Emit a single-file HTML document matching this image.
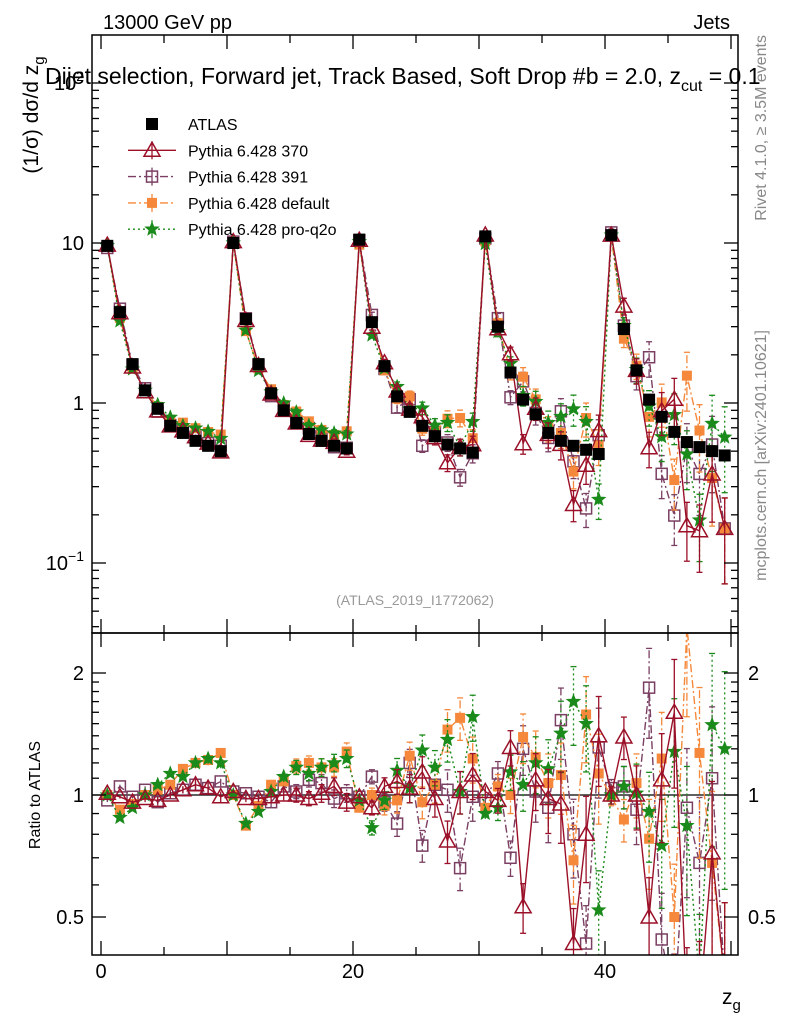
<!DOCTYPE html>
<html><head><meta charset="utf-8"><style>
html,body{margin:0;padding:0;background:#fff;width:786px;height:1024px;overflow:hidden;position:relative;}
svg{display:block;position:absolute;left:0;top:0;font-family:"Liberation Sans",sans-serif;}
</style></head><body>
<svg id="c" width="786" height="1024" viewBox="0 0 786 1024" overflow="hidden">
<defs>
<clipPath id="cm"><rect x="92" y="35" width="646" height="598"/></clipPath>
<clipPath id="cr"><rect x="92" y="633" width="646" height="322"/></clipPath>
</defs>
<g id="layer"></g>
<rect x="92" y="35" width="646" height="598" fill="none" stroke="#000" stroke-width="1.5"/>
<rect x="92" y="633" width="646" height="322" fill="none" stroke="#000" stroke-width="1.5"/>
<text x="103" y="29" font-size="20">13000 GeV pp</text>
<text x="730" y="29" font-size="20" text-anchor="end">Jets</text>
<text x="45" y="84" font-size="23">Dijet selection, Forward jet, Track Based, Soft Drop #b = 2.0, z<tspan font-size="16" dy="7">cut</tspan><tspan dy="-7"> = 0.1</tspan></text>
<text transform="translate(38,115) rotate(-90)" font-size="21" text-anchor="middle">(1/σ) dσ/d z<tspan font-size="15" dy="6">g</tspan></text>
<text transform="translate(40,795) rotate(-90)" font-size="16" text-anchor="middle">Ratio to ATLAS</text>
<text x="722" y="1004" font-size="21">z<tspan font-size="15" dy="6">g</tspan></text>
<text transform="translate(766,35) rotate(-90)" font-size="16" fill="#888" text-anchor="end">Rivet 4.1.0, ≥ 3.5M events</text>
<text transform="translate(766,330) rotate(-90)" font-size="16" fill="#888" text-anchor="end">mcplots.cern.ch [arXiv:2401.10621]</text>
<text x="415" y="605" font-size="14" fill="#999" text-anchor="middle">(ATLAS_2019_I1772062)</text>
</svg>
<script>
const atlas=[9.6,3.7,1.75,1.2,0.92,0.72,0.65,0.58,0.54,0.50,
10.0,3.35,1.75,1.15,0.9,0.75,0.64,0.58,0.54,0.52,
10.5,3.2,1.7,1.1,0.88,0.72,0.62,0.55,0.52,0.49,
11.0,3.0,1.55,1.05,0.85,0.65,0.58,0.54,0.51,0.48,
11.2,2.9,1.6,1.05,0.82,0.66,0.57,0.53,0.50,0.47];
const ratio370=[1.01,0.99,0.96,0.98,0.97,1.0,1.03,1.06,1.04,0.99,
1.02,0.98,0.98,0.99,1.0,1.0,0.98,1.01,1.05,0.96,
0.99,0.93,1.05,1.08,1.04,1.14,0.98,0.77,1.02,1.12,
1.02,0.97,1.31,0.53,1.09,0.98,0.95,0.43,0.8,1.4,
1.0,1.39,1.0,0.5,1.09,1.6,0.3,0.3,0.72,0.35];
const ratio391=[0.97,1.05,0.99,1.03,0.96,1.01,1.03,1.06,1.04,1.08,
1.02,1.01,0.99,0.96,1.05,1.02,1.09,1.07,0.98,1.01,
0.99,1.11,0.96,0.85,1.2,0.75,1.06,1.03,0.66,0.99,
0.97,1.13,0.7,1.3,1.02,0.93,1.53,0.8,0.43,1.31,
1.04,1.05,0.92,1.84,0.44,0.3,0.93,0.68,1.1,0.35];
const ratioDefault=[1.0,0.92,0.95,1.0,1.03,1.06,1.16,1.2,1.22,1.27,
1.0,0.84,0.94,1.06,1.08,1.18,1.2,1.17,1.17,1.28,
0.93,1.0,0.94,0.97,1.25,0.96,1.06,1.45,1.55,1.23,
0.93,1.05,1.0,1.39,1.24,1.07,1.12,0.69,1.58,1.13,
0.99,0.87,1.07,0.78,1.23,0.5,2.6,1.27,0.68,0.35];
const ratioProQ2o=[1.0,0.88,0.93,1.0,1.06,1.13,1.11,1.2,1.23,1.2,
1.0,0.85,0.91,1.02,1.11,1.17,1.13,1.17,1.2,1.23,
0.97,0.83,0.97,1.15,1.04,1.29,1.17,1.37,1.02,1.56,
0.9,0.93,1.14,1.06,1.2,1.16,1.42,1.7,1.5,0.52,
1.0,1.05,1.01,0.91,0.75,1.28,0.84,0.35,1.49,1.3];
const mcRelErr=[0.01,0.01,0.01,0.02,0.02,0.02,0.02,0.03,0.03,0.03,
0.01,0.02,0.02,0.03,0.03,0.04,0.04,0.05,0.05,0.05,
0.02,0.04,0.05,0.07,0.08,0.09,0.1,0.12,0.12,0.13,
0.03,0.07,0.1,0.14,0.16,0.18,0.2,0.22,0.24,0.25,
0.05,0.12,0.18,0.25,0.3,0.35,0.4,0.45,0.5,0.55];
const atlasRelErr=[0.01,0.01,0.01,0.01,0.01,0.01,0.01,0.01,0.01,0.01,
0.01,0.01,0.01,0.01,0.01,0.01,0.01,0.01,0.01,0.01,
0.01,0.01,0.01,0.02,0.02,0.02,0.02,0.02,0.02,0.02,
0.01,0.02,0.02,0.02,0.03,0.03,0.03,0.03,0.03,0.03,
0.02,0.03,0.03,0.04,0.04,0.05,0.05,0.05,0.06,0.06];
const xTicksMajor=[0,20,40];
const mainTickLabels=["10⁻¹","1","10","10²"];

const NS="http://www.w3.org/2000/svg";
const layer=document.getElementById('layer');
const X=v=>101+v*12.6;
const YM=v=>243-160*(Math.log10(v)-1);
const YR=r=>795-122*Math.log2(r);
function mk(t,a,p){const e=document.createElementNS(NS,t);for(const k in a)e.setAttribute(k,a[k]);(p||layer).appendChild(e);return e;}
const gMain=mk('g',{'clip-path':'url(#cm)'});


const gRat=mk('g',{'clip-path':'url(#cr)'});


const gAx=mk('g',{});



const rl=mk('line',{x1:92,x2:738,y1:YR(1),y2:YR(1),stroke:'#000','stroke-width':1.3},gRat);



for(let v=0;v<=50;v+=5){const L=(v%10===0)?14:8;
 mk('line',{x1:X(v),x2:X(v),y1:955,y2:955-L,stroke:'#000','stroke-width':1.3},gAx);
 mk('line',{x1:X(v),x2:X(v),y1:633,y2:633-L,stroke:'#000','stroke-width':1.3},gAx);
 mk('line',{x1:X(v),x2:X(v),y1:633,y2:633+L,stroke:'#000','stroke-width':1.3},gAx);
 mk('line',{x1:X(v),x2:X(v),y1:35,y2:35+L,stroke:'#000','stroke-width':1.3},gAx);}
xTicksMajor.forEach(v=>{const t=mk('text',{x:X(v),y:978,'font-size':20,'text-anchor':'middle'},gAx);t.textContent=v;
 
 });
for(let d=-2;d<=2;d++)for(let m=1;m<10;m++){const v=m*Math.pow(10,d);const y=YM(v);if(y<35||y>633)continue;const L=m===1?14:7;
 mk('line',{x1:92,x2:92+L,y1:y,y2:y,stroke:'#000','stroke-width':1.3},gAx);
 mk('line',{x1:738,x2:738-L,y1:y,y2:y,stroke:'#000','stroke-width':1.3},gAx);}
[[0.1,0],[1,1],[10,2],[100,3]].forEach(([v,i])=>{const t=mk('text',{x:84,y:YM(v)+7,'font-size':20,'text-anchor':'end'},gAx);
 if(i===0){t.innerHTML='10<tspan font-size="14" dy="-9">−1</tspan>';}
 else if(i===3){t.innerHTML='10<tspan font-size="14" dy="-9">2</tspan>';}
 else t.textContent=mainTickLabels[i];
 
 });
[0.5,0.6,0.7,0.8,0.9,1,1.1,1.2,1.3,1.4,1.5,1.6,1.7,1.8,1.9,2].forEach(v=>{const L=(v===0.5||v===1||v===2)?14:7;const y=YR(v);
 mk('line',{x1:92,x2:92+L,y1:y,y2:y,stroke:'#000','stroke-width':1.3},gAx);
 mk('line',{x1:738,x2:738-L,y1:y,y2:y,stroke:'#000','stroke-width':1.3},gAx);});
[[2,'2'],[1,'1'],[0.5,'0.5']].forEach(([v,s])=>{
 const t=mk('text',{x:84,y:YR(v)+7,'font-size':20,'text-anchor':'end'},gAx);t.textContent=s;
 
 
 const t2=mk('text',{x:748,y:YR(v)+7,'font-size':20},gAx);t2.textContent=s;
 
 });

function marker(g,type,x,y,col){
 if(type==='sq-fill')return mk('rect',{x:x-6,y:y-6,width:12,height:12,fill:col},g);
 if(type==='tri')return mk('polygon',{points:`${x},${y-8} ${x-8},${y+6} ${x+8},${y+6}`,fill:'none',stroke:col,'stroke-width':1.5},g);
 if(type==='sq')return mk('rect',{x:x-5.5,y:y-5.5,width:11,height:11,fill:'none',stroke:col,'stroke-width':1.5},g);
 if(type==='sqo')return mk('rect',{x:x-5,y:y-5,width:10,height:10,fill:col},g);
 if(type==='star'){let p=[];for(let i=0;i<10;i++){const r=i%2?3:7;const a=-Math.PI/2+i*Math.PI/5;p.push((x+r*Math.cos(a)).toFixed(1)+','+(y+r*Math.sin(a)).toFixed(1));}
  return mk('polygon',{points:p.join(' '),fill:col,stroke:col,'stroke-width':0.8},g);}
}
const series=[
 {name:'pythia-391',r:ratio391,col:'#7a3f62',dash:'8,3,2,3',m:'sq'},
 {name:'pythia-default',r:ratioDefault,col:'#f5883a',dash:'8,3,2,3',m:'sqo'},
 {name:'pythia-pro-q2o',r:ratioProQ2o,col:'#1a8a1a',dash:'2,3',m:'star'},
 {name:'pythia-370',r:ratio370,col:'#9b1028',dash:'',m:'tri'}];
series.forEach(s=>{
 ['main','ratio'].forEach(panel=>{
  const G=panel==='main'?gMain:gRat;
  const g=mk('g',{},G);
  
  
  const Yf=i=>panel==='main'?YM(atlas[i]*s.r[i]):YR(s.r[i]);
  const pts=s.r.map((v,i)=>X(i+0.5).toFixed(1)+','+Yf(i).toFixed(1)).join(' ');
  const pl=mk('polyline',{points:pts,fill:'none',stroke:s.col,'stroke-width':1.4,'stroke-dasharray':s.dash},g);
  
  
  s.r.forEach((v,i)=>{
   const e=mcRelErr[i];const x=X(i+0.5);
   const val=panel==='main'?atlas[i]*v:v;
   const lo=Math.max(val*(1-e),1e-3),hi=val*(1+e);
   const f=panel==='main'?YM:YR;
   mk('line',{x1:x,x2:x,y1:f(lo),y2:f(hi),stroke:s.col,'stroke-width':1.3,'stroke-dasharray':s.dash},g);
   if(e>0.03){mk('line',{x1:x-3,x2:x+3,y1:f(lo),y2:f(lo),stroke:s.col,'stroke-width':1.3},g);
    mk('line',{x1:x-3,x2:x+3,y1:f(hi),y2:f(hi),stroke:s.col,'stroke-width':1.3},g);}
   const mm=marker(g,s.m,x,Yf(i),s.col);
   
   
  });
 });
});
const ga=mk('g',{},gMain);


atlas.forEach((v,i)=>{const x=X(i+0.5);
 mk('line',{x1:x,x2:x,y1:YM(v*(1-atlasRelErr[i])),y2:YM(v*(1+atlasRelErr[i])),stroke:'#000','stroke-width':1.3},ga);
 const m=marker(ga,'sq-fill',x,YM(v),'#000');
 
 });
const leg=mk('g',{});


const legItems=[['ATLAS','sq-fill','#000',''],['Pythia 6.428 370','tri','#9b1028',''],['Pythia 6.428 391','sq','#7a3f62','8,3,2,3'],['Pythia 6.428 default','sqo','#f5883a','8,3,2,3'],['Pythia 6.428 pro-q2o','star','#1a8a1a','2,3']];
legItems.forEach((it,k)=>{const y=124+k*26.3;const g=mk('g',{},leg);
 
 
 if(k>0){mk('line',{x1:128,x2:176,y1:y,y2:y,stroke:it[2],'stroke-width':1.4,'stroke-dasharray':it[3]},g);
  mk('line',{x1:152,x2:152,y1:y-9,y2:y+9,stroke:it[2],'stroke-width':1.3},g);}
 marker(g,it[1],152,y,it[2]);
 const t=mk('text',{x:188,y:y+6,'font-size':16},g);t.textContent=it[0];});
</script>
</body></html>
